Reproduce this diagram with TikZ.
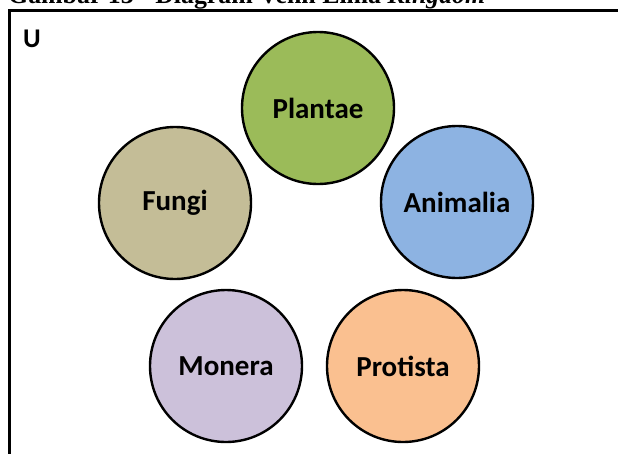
\documentclass[tikz,border=0pt]{standalone}
\usepackage{fontspec}
\setmainfont{Liberation Serif}
\newfontfamily\labelfont{Carlito}
\definecolor{cplantae}{HTML}{9BBB59}
\definecolor{cfungi}{HTML}{C4BD97}
\definecolor{canimalia}{HTML}{8DB3E2}
\definecolor{cmonera}{HTML}{CCC1DA}
\definecolor{cprotista}{HTML}{FAC090}
\begin{document}
\begin{tikzpicture}[x=1pt,y=-1pt,
  kingdom/.style={circle,draw=black,line width=2.4pt,minimum size=152pt,inner sep=0pt,
    font=\labelfont\bfseries\fontsize{29}{32}\selectfont},
  framebox/.style={line width=3pt,draw=black}]
\useasboundingbox (0,0) rectangle (618,453);
\clip (0,0) rectangle (618,453);
\fill[white] (0,0) rectangle (618,453);
% cut-off caption above the frame
\node[anchor=base west,inner sep=0pt] (title) at (8,3)
  {\resizebox{477pt}{!}{\bfseries Gambar 13 - Diagram Venn Lima \textit{Kingdom}}};
% universe frame
\coordinate (fbl) at (9,460);
\coordinate (ftl) at (9,10);
\coordinate (ftr) at (625,10);
\draw[framebox] (fbl) -- (ftl) -- (ftr);
\node[anchor=center,inner sep=0pt,font=\labelfont\bfseries\fontsize{27}{30}\selectfont] (U) at (32,39) {U};
% kingdoms
\node[kingdom,fill=cplantae] (plantae) at (318,108) {Plantae};
\node[kingdom,fill=cfungi] (fungi) at (175,203) {Fungi};
\node[kingdom,fill=canimalia] (animalia) at (457,202) {Animalia};
\node[kingdom,fill=cmonera] (monera) at (226,366) {Monera};
\node[kingdom,fill=cprotista] (protista) at (403,366) {Protista};
\end{tikzpicture}
\end{document}
